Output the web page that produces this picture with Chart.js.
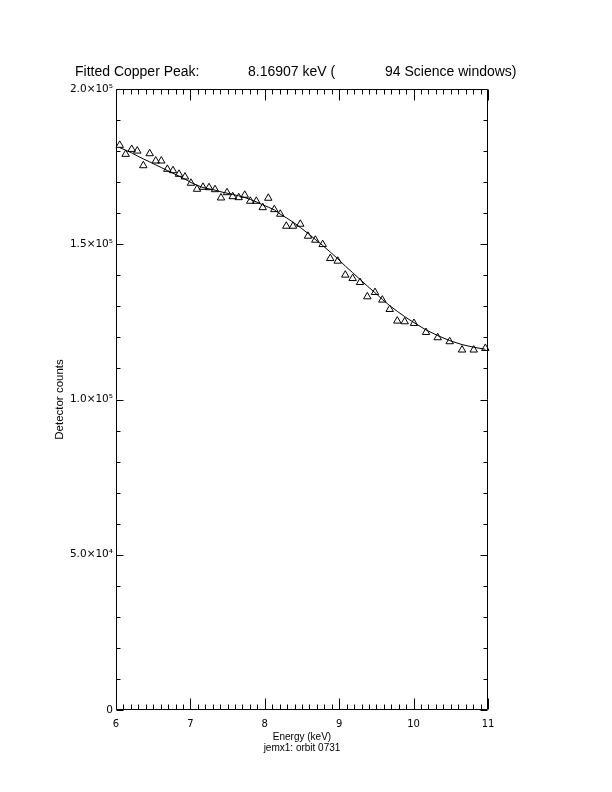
<!DOCTYPE html>
<html>
<head>
<meta charset="utf-8">
<script src="https://cdn.jsdelivr.net/npm/chart.js@4/dist/chart.umd.min.js"></script>
<style>
html,body{margin:0;padding:0;background:#ffffff;}
canvas{display:block;}
</style>
</head>
<body>
<canvas id="c" width="612" height="792"></canvas>
<script>
// ---- data ----
const energy = [6.050, 6.130, 6.211, 6.286, 6.367, 6.453, 6.534, 6.609, 6.690, 6.766,
                6.847, 6.927, 7.008, 7.089, 7.169, 7.250, 7.331, 7.411, 7.492, 7.569,
                7.649, 7.730, 7.805, 7.886, 7.972, 8.047, 8.128, 8.208, 8.289, 8.379,
                8.477, 8.581, 8.679, 8.778, 8.880, 8.980, 9.082, 9.181, 9.280, 9.378,
                9.481, 9.579, 9.679, 9.781, 9.880, 10.005, 10.167, 10.324, 10.485, 10.651,
                10.808, 10.964];
const counts = [181900, 179000, 180600, 180060, 175340, 179200, 176850, 176850, 174180, 173730,
                172570, 171700, 169680, 167750, 168390, 168260, 167620, 164950, 166650, 165370,
                165050, 165820, 163890, 163890, 161830, 164860, 161190, 159710, 155850, 155850,
                156490, 152630, 151350, 149940, 145440, 144600, 140100, 139000, 137720, 133120,
                134500, 132060, 129040, 125300, 125080, 124540, 121640, 119940, 118650, 115980,
                115980, 116490];
const fitCounts = [181130, 180280, 179420, 178460, 177490, 176530, 175560, 174700, 173740, 172880,
                   171920, 170950, 169880, 169020, 168270, 167840, 167420, 166880, 166450, 166020,
                   165590, 165060, 164410, 163660, 162700, 161950, 161090, 159700, 158520, 157130,
                   155410, 153480, 151550, 149620, 147480, 145340, 142980, 140840, 138690, 136550,
                   134400, 132260, 130220, 128400, 126690, 124760, 122400, 120580, 118970, 117680,
                   116830, 116180];
const xTickValues = [6, 7, 8, 9, 10, 11];
const xTickLabels = ['6', '7', '8', '9', '10', '11'];
const yTickValues = [0, 50000, 100000, 150000, 200000];
const yTickLabels = ['0', '5.0×10⁴', '1.0×10⁵', '1.5×10⁵', '2.0×10⁵'];
const titleParts = ['Fitted Copper Peak:', '8.16907 keV (', '94 Science windows)'];
const xTitle = ['Energy (keV)', 'jemx1: orbit 0731'];
const yTitle = 'Detector counts';

// ---- chart ----
const pointData = energy.map((e, i) => ({x: e, y: counts[i]}));
const fitData = energy.map((e, i) => ({x: e, y: fitCounts[i]}));

const framePlugin = {
  id: 'idlFrame',
  beforeDraw(chart) {
    const c = chart.ctx;
    c.save();
    c.fillStyle = '#ffffff';
    c.fillRect(0, 0, chart.width, chart.height);
    c.restore();
  },
  afterDraw(chart) {
    const c = chart.ctx;
    const a = chart.chartArea;
    const xs = chart.scales.x, ys = chart.scales.y;
    const L = Math.round(a.left) + 0.5, R = Math.round(a.right) - 0.5;
    const T = Math.round(a.top) + 0.5, B = Math.round(a.bottom) - 0.5;
    c.save();
    c.strokeStyle = '#000';
    c.lineWidth = 1;
    c.beginPath();
    c.moveTo(L, T); c.lineTo(R, T); c.lineTo(R, B); c.lineTo(L, B); c.closePath();
    // x ticks (bottom + top), 10 sub-intervals per unit
    for (let i = 0; i <= 50; i++) {
      const v = xs.min + i * 0.1;
      const px = Math.round(xs.getPixelForValue(v)) + 0.5;
      const len = (i % 10 === 0) ? 11 : 5;
      c.moveTo(px, B); c.lineTo(px, B - len);
      c.moveTo(px, T); c.lineTo(px, T + len);
    }
    // y ticks (left + right), 5 sub-intervals per major step
    for (let i = 0; i <= 20; i++) {
      const v = ys.min + i * 10000;
      const py = Math.round(ys.getPixelForValue(v)) + 0.5;
      const len = (i % 5 === 0) ? 7 : 4;
      c.moveTo(L, py); c.lineTo(L + len, py);
      c.moveTo(R, py); c.lineTo(R - len, py);
    }
    c.stroke();
    // title
    c.fillStyle = '#000';
    c.font = '14px "Liberation Sans", Arial, sans-serif';
    c.textBaseline = 'alphabetic';
    c.textAlign = 'left';
    c.fillText(titleParts[0], 75, 76);
    c.fillText(titleParts[1], 248, 76);
    c.fillText(titleParts[2], 385, 76);
    c.restore();
  }
};

new Chart(document.getElementById('c'), {
  type: 'scatter',
  data: {
    datasets: [
      {
        label: 'fit',
        data: fitData,
        showLine: true,
        tension: 0,
        borderColor: '#000',
        borderWidth: 1,
        pointRadius: 0,
        pointHoverRadius: 0,
        fill: false,
        clip: false
      },
      {
        label: 'counts',
        data: pointData,
        showLine: false,
        pointStyle: 'triangle',
        pointRadius: 4.3,
        pointHoverRadius: 4.3,
        borderColor: '#000',
        backgroundColor: 'rgba(255,255,255,0)',
        pointBorderWidth: 1,
        clip: false
      }
    ]
  },
  options: {
    responsive: false,
    animation: false,
    events: [],
    layout: { padding: { left: 0, top: 89, right: 124, bottom: 0 } },
    plugins: {
      legend: { display: false },
      tooltip: { enabled: false },
      title: { display: false }
    },
    scales: {
      x: {
        type: 'linear',
        min: 6, max: 11,
        afterBuildTicks: (s) => { s.ticks = xTickValues.map(v => ({value: v})); },
        afterFit: (s) => { s.height = 82; },
        grid: { display: false, drawTicks: false },
        border: { display: false },
        ticks: {
          autoSkip: false, maxRotation: 0, padding: 8, color: '#000',
          font: { family: '"DejaVu Sans", sans-serif', size: 10 },
          callback: (v) => { const i = xTickValues.indexOf(v); return i >= 0 ? xTickLabels[i] : ''; }
        },
        title: {
          display: true, text: xTitle, color: '#000',
          font: { family: '"Liberation Sans", Arial, sans-serif', size: 10, lineHeight: 1.1 },
          padding: { top: 0, bottom: 38 }
        }
      },
      y: {
        type: 'linear',
        min: 0, max: 200000,
        afterBuildTicks: (s) => { s.ticks = yTickValues.map(v => ({value: v})); },
        afterFit: (s) => { s.width = 116; },
        grid: { display: false, drawTicks: false },
        border: { display: false },
        ticks: {
          autoSkip: false, padding: 3, color: '#000',
          font: { family: '"DejaVu Sans", sans-serif', size: 10.5 },
          callback: (v) => { const i = yTickValues.indexOf(v); return i >= 0 ? yTickLabels[i] : ''; }
        },
        title: {
          display: true, text: yTitle, color: '#000',
          font: { family: '"Liberation Sans", Arial, sans-serif', size: 11.5, lineHeight: 1.2 },
          padding: { top: 53, bottom: 0 }
        }
      }
    }
  },
  plugins: [framePlugin]
});
</script>
</body>
</html>
